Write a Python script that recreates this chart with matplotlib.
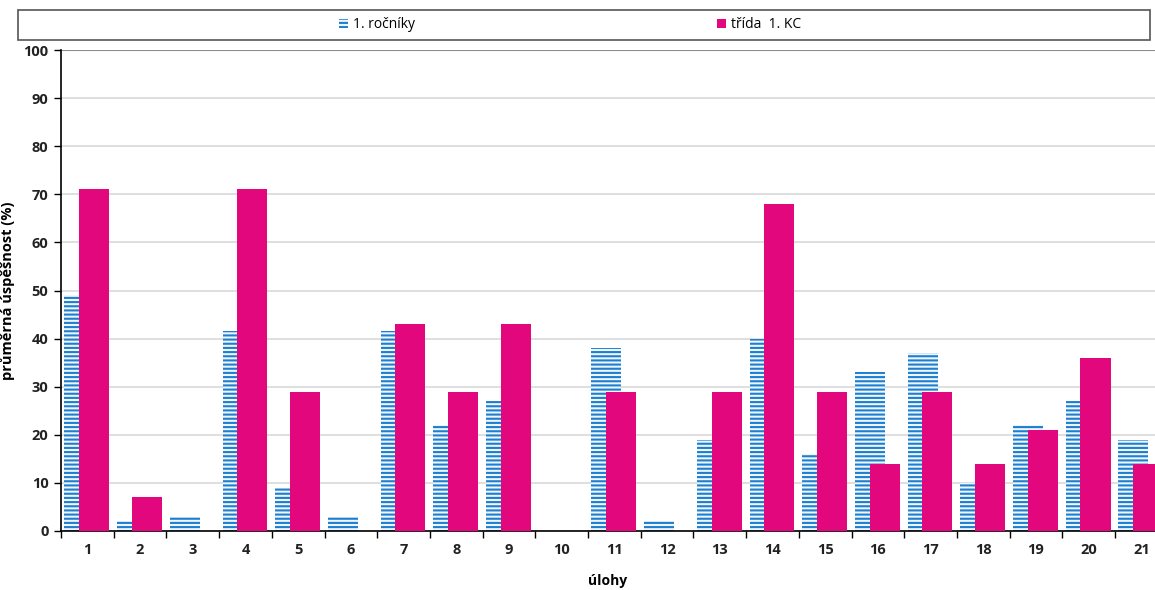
import matplotlib
matplotlib.use("Agg")
import matplotlib.pyplot as plt
from matplotlib.patches import Rectangle
import numpy as np

# data
ulohy = [str(i) for i in range(1, 22)]
rocniky = [49, 2, 3, 41.5, 9, 3, 41.5, 22, 27, 0, 38, 2, 19, 40, 16, 33, 37, 10, 22, 27, 19]
trida = [71, 7, 0, 71, 29, 0, 43, 29, 43, 0, 29, 0, 29, 68, 29, 14, 29, 14, 21, 36, 14]

BLUE = "#1f7fcf"
PINK = "#e2077c"

plt.rcParams['font.family'] = ['Open Sans', 'DejaVu Sans']
plt.rcParams['hatch.linewidth'] = 1.5

fig = plt.figure(figsize=(11.55, 5.9), dpi=100)
ax = fig.add_axes([61 / 1155, 1 - 531 / 590, 1 - 61 / 1155, (531 - 50) / 590])

x = np.arange(1, len(ulohy) + 1)
w = 0.57
ax.bar(x - 0.15, rocniky, w, facecolor="#eef5fc", edgecolor=BLUE, hatch="----",
       linewidth=0, label="1. ročníky", zorder=2)
ax.bar(x + 0.13, trida, w, color=PINK, linewidth=0, label="třída  1. KC", zorder=3)

ax.set_yticks(range(0, 101, 10))
ax.set_xticks(x)
ax.set_xticklabels(ulohy)
ax.set_xticks(np.arange(0.5, 21, 1), minor=True)
ax.set_xlim(0.5, 0.5 + (1155 - 61) / 52.7)
ax.set_ylim(0, 100)
ax.tick_params(axis='x', which='major', length=0, pad=9)
ax.tick_params(axis='x', which='minor', length=5, width=1, direction='out')
ax.tick_params(axis='y', length=5, width=1, direction='out', pad=4)
for lab in ax.get_xticklabels() + ax.get_yticklabels():
    lab.set_fontweight('bold')
    lab.set_fontsize(10.5)
    lab.set_color('#222222')

ax.grid(axis='y', color='#d9d9d9', linewidth=1.2, zorder=0)
ax.set_axisbelow(True)
for s in ['top', 'right']:
    ax.spines[s].set_visible(False)
ax.spines['left'].set_linewidth(1.2)
ax.spines['bottom'].set_linewidth(1.2)
ax.axhline(100, color='#8c8c8c', linewidth=1.5, zorder=1)

ax.set_ylabel("průměrná úspěšnost (%)", fontweight='bold', fontsize=10.5, labelpad=6)
ax.set_xlabel("úlohy", fontweight='bold', fontsize=10, labelpad=12)

# legend box across the top
fig.patches.append(Rectangle((18 / 1155, 1 - 40 / 590), (1150 - 18) / 1155, 30 / 590,
                             transform=fig.transFigure, facecolor='white',
                             edgecolor='#555555', linewidth=1.2))
fig.legend(loc='center', bbox_to_anchor=(570 / 1155, 1 - 25 / 590), ncol=2, frameon=False,
           fontsize=10, handlelength=0.65, handleheight=0.6, handletextpad=0.35,
           columnspacing=21.7)

fig.savefig("out.png", dpi=100)
